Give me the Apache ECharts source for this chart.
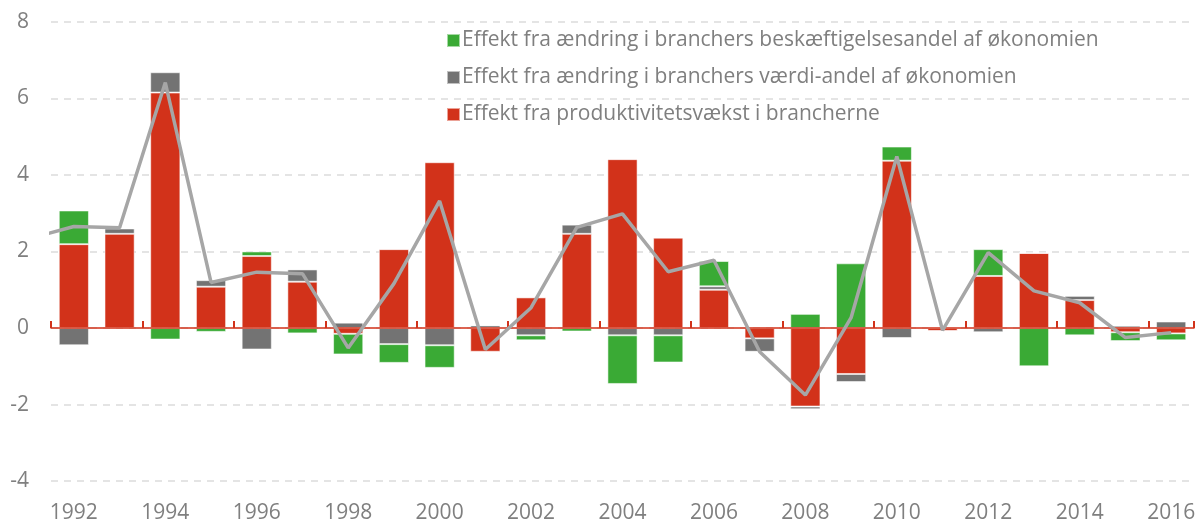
<!DOCTYPE html>
<html>
<head>
<meta charset="utf-8">
<script src="https://cdn.jsdelivr.net/npm/echarts@6/dist/echarts.min.js"></script>
<style>
html,body{margin:0;padding:0;background:#fff;}
#chart{width:1197px;height:520px;}
</style>
</head>
<body>
<div id="chart"></div>
<script>
var years = ['1992','1993','1994','1995','1996','1997','1998','1999','2000','2001','2002','2003','2004','2005','2006','2007','2008','2009','2010','2011','2012','2013','2014','2015','2016'];
var yTicks = [-4, -2, 0, 2, 4, 6, 8];

var nameProd = 'Effekt fra produktivitetsvækst i brancherne';
var nameVaerdi = 'Effekt fra ændring i branchers værdi-andel af økonomien';
var nameBeskaef = 'Effekt fra ændring i branchers beskæftigelsesandel af økonomien';

var prodValues   = [2.19, 2.46, 6.15, 1.08, 1.88, 1.21, -0.15, 2.06, 4.33, -0.62, 0.80, 2.46, 4.41, 2.36, 1.00, -0.27, -2.05, -1.20, 4.37, -0.08, 1.36, 1.96, 0.73, -0.11, -0.14];
var vaerdiValues = [-0.45, 0.14, 0.53, 0.17, -0.56, 0.32, 0.14, -0.42, -0.45, 0.07, -0.19, 0.24, -0.19, -0.19, 0.09, -0.35, -0.07, -0.21, -0.26, 0, -0.11, 0, 0.11, 0.06, 0.17];
var beskaefValues = [0.88, 0.02, -0.30, -0.10, 0.12, -0.14, -0.54, -0.49, -0.59, 0, -0.13, -0.09, -1.27, -0.71, 0.66, -0.02, 0.37, 1.69, 0.37, 0.02, 0.70, -1.00, -0.19, -0.23, -0.18];

var lineYears  = [1991, 1992, 1993, 1994, 1995, 1996, 1997, 1998, 1999, 2000, 2001, 2002, 2003, 2004, 2005, 2006, 2007, 2008, 2009, 2010, 2011, 2012, 2013, 2014, 2015, 2016];
var lineValues = [2.33, 2.65, 2.62, 6.41, 1.19, 1.46, 1.42, -0.52, 1.16, 3.32, -0.56, 0.53, 2.63, 2.98, 1.47, 1.77, -0.62, -1.75, 0.27, 4.48, -0.06, 1.97, 0.97, 0.66, -0.25, -0.12];

var RED = '#D2321A', GREEN = '#3AAA35', GRAY = '#737373', LINE = '#A6A6A6', TXT = '#7F7F7F';
var FONT = '"Open Sans", "Liberation Sans", sans-serif';

var chart = echarts.init(document.getElementById('chart'), null, {renderer: 'canvas'});

var barStyle = function (c) {
  return {color: c, borderColor: 'rgba(255,255,255,0.55)', borderWidth: 1};
};

var option = {
  animation: false,
  backgroundColor: '#fff',
  textStyle: {fontFamily: FONT},
  grid: {left: 51, right: 3, top: 21.7, bottom: 38.8, containLabel: false, outerBoundsMode: 'none'},
  legend: {
    orient: 'vertical',
    left: 441,
    top: 25,
    itemWidth: 13,
    itemHeight: 13,
    itemGap: 16,
    icon: 'rect',
    data: [nameBeskaef, nameVaerdi, nameProd],
    textStyle: {color: TXT, fontSize: 21, fontFamily: FONT, padding: [0, 0, 0, -3]}
  },
  xAxis: [
    {
      type: 'category',
      data: years,
      position: 'bottom',
      boundaryGap: true,
      axisLine: {show: true, onZero: true, lineStyle: {color: RED, width: 1.5}},
      axisTick: {show: true, inside: true, length: 7, interval: 1, lineStyle: {color: RED, width: 2}},
      axisLabel: {show: false},
      splitLine: {show: false},
      z: 5
    },
    {
      type: 'category',
      data: years,
      position: 'bottom',
      boundaryGap: true,
      axisLine: {show: false, onZero: false},
      axisTick: {show: false},
      axisLabel: {show: true, interval: 1, color: TXT, fontSize: 21, fontFamily: FONT, margin: 21},
      splitLine: {show: false}
    },
    {
      type: 'value',
      min: 1991.5,
      max: 2016.5,
      show: false,
      position: 'top',
      splitLine: {show: false}
    }
  ],
  yAxis: {
    type: 'value',
    min: yTicks[0],
    max: yTicks[yTicks.length - 1],
    interval: 2,
    axisLine: {show: false},
    axisTick: {show: false},
    axisLabel: {color: TXT, fontSize: 21, fontFamily: FONT, margin: 22},
    splitLine: {show: true, lineStyle: {color: '#DCDCDC', width: 1.5, type: [7, 6]}}
  },
  series: [
    {
      name: nameProd, type: 'bar', stack: 'total', xAxisIndex: 0,
      barWidth: '66%', itemStyle: barStyle(RED), data: prodValues
    },
    {
      name: nameVaerdi, type: 'bar', stack: 'total', xAxisIndex: 0,
      barWidth: '66%', itemStyle: barStyle(GRAY), data: vaerdiValues
    },
    {
      name: nameBeskaef, type: 'bar', stack: 'total', xAxisIndex: 0,
      barWidth: '66%', itemStyle: barStyle(GREEN), data: beskaefValues
    },
    {
      name: 'total', type: 'line', xAxisIndex: 2,
      data: lineYears.map(function (y, i) { return [y, lineValues[i]]; }),
      showSymbol: false, symbol: 'none', clip: true,
      lineStyle: {color: LINE, width: 3.5},
      z: 10
    }
  ]
};
chart.setOption(option);
</script>
</body>
</html>
